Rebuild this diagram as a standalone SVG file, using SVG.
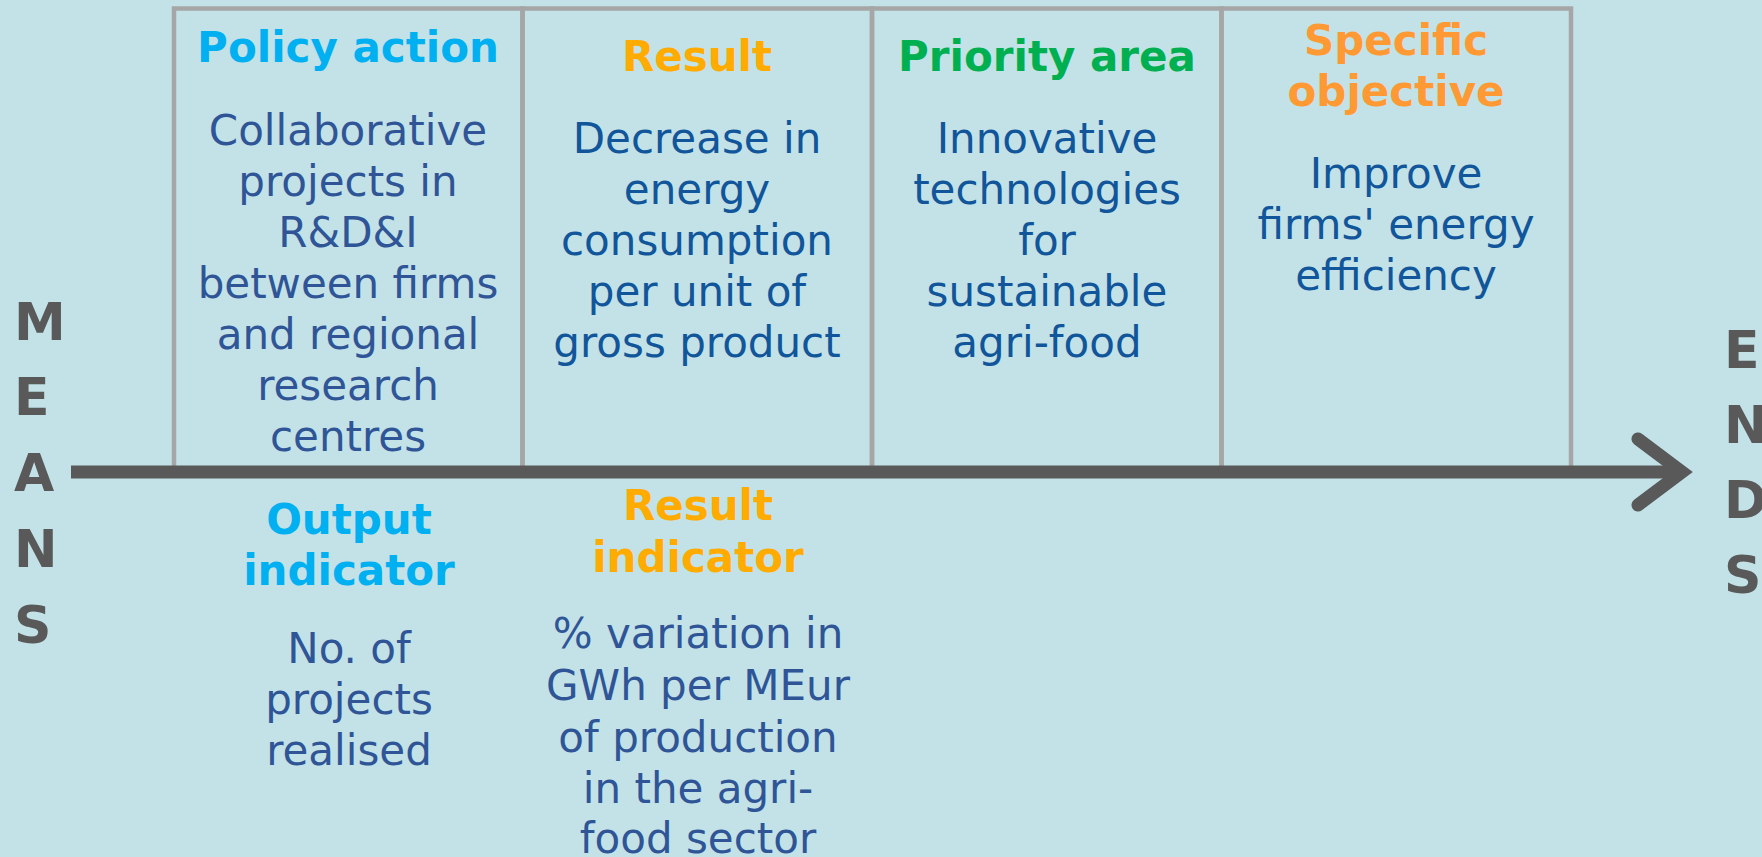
<svg xmlns="http://www.w3.org/2000/svg" width="1762" height="857" viewBox="0 0 1762 857">
<style>
text{font-family:"DejaVu Sans",Verdana,sans-serif;}
.col{fill:none;stroke:#a6a6a6;stroke-width:4.5;}
.hd{font-weight:bold;font-size:42px;text-anchor:middle;}
.bd{font-size:42px;text-anchor:middle;}
.b1{fill:#2f5597;}
.b2{fill:#11559a;}
.cy{fill:#00b0f0;}
.am{fill:#ffab00;}
.gr{fill:#00b050;}
.or{fill:#ff9933;}
.side{font-weight:bold;font-size:52px;fill:#595959;}
.arr{fill:none;stroke:#595959;stroke-width:13;}
</style>
<rect x="0" y="0" width="1762" height="857" fill="#c2e2e7"/>
<g id="policy-action">
<rect class="col" x="174" y="8.5" width="348.5" height="464"/>
<text class="hd cy" x="348" y="62">Policy action</text>
<text class="bd b1" x="348"><tspan x="348" y="145">Collaborative</tspan><tspan x="348" y="196">projects in</tspan><tspan x="348" y="247">R&amp;D&amp;I</tspan><tspan x="348" y="298">between firms</tspan><tspan x="348" y="349">and regional</tspan><tspan x="348" y="400">research</tspan><tspan x="348" y="451">centres</tspan></text>
</g>
<g id="result">
<rect class="col" x="522.5" y="8.5" width="349.5" height="464"/>
<text class="hd am" x="697" y="71">Result</text>
<text class="bd b2"><tspan x="697" y="153">Decrease in</tspan><tspan x="697" y="204">energy</tspan><tspan x="697" y="255">consumption</tspan><tspan x="697" y="306">per unit of</tspan><tspan x="697" y="357">gross product</tspan></text>
</g>
<g id="priority-area">
<rect class="col" x="872" y="8.5" width="349.5" height="464"/>
<text class="hd gr" x="1047" y="71">Priority area</text>
<text class="bd b2"><tspan x="1047" y="153">Innovative</tspan><tspan x="1047" y="204">technologies</tspan><tspan x="1047" y="255">for</tspan><tspan x="1047" y="306">sustainable</tspan><tspan x="1047" y="357">agri-food</tspan></text>
</g>
<g id="specific-objective">
<rect class="col" x="1221.5" y="8.5" width="349.5" height="464"/>
<text class="hd or"><tspan x="1396" y="55">Specific</tspan><tspan x="1396" y="106">objective</tspan></text>
<text class="bd b2"><tspan x="1396" y="188">Improve</tspan><tspan x="1396" y="239">firms' energy</tspan><tspan x="1396" y="290">efficiency</tspan></text>
</g>
<g id="output-indicator">
<text class="hd cy"><tspan x="349" y="534">Output</tspan><tspan x="349" y="585">indicator</tspan></text>
<text class="bd b1"><tspan x="349" y="663">No. of</tspan><tspan x="349" y="714">projects</tspan><tspan x="349" y="765">realised</tspan></text>
</g>
<g id="result-indicator">
<text class="hd am"><tspan x="698" y="520">Result</tspan><tspan x="698" y="572">indicator</tspan></text>
<text class="bd b1"><tspan x="698" y="648">% variation in</tspan><tspan x="698" y="700">GWh per MEur</tspan><tspan x="698" y="752">of production</tspan><tspan x="698" y="803">in the agri-</tspan><tspan x="698" y="853">food sector</tspan></text>
</g>
<g id="means">
<text class="side"><tspan x="14" y="340">M</tspan><tspan x="14" y="415">E</tspan><tspan x="14" y="491">A</tspan><tspan x="14" y="567">N</tspan><tspan x="14" y="643">S</tspan></text>
</g>
<g id="ends">
<text class="side"><tspan x="1724" y="368">E</tspan><tspan x="1724" y="443">N</tspan><tspan x="1724" y="518">D</tspan><tspan x="1724" y="593">S</tspan></text>
</g>
<g id="connectors">
<path class="arr" d="M71 472 H1680"/>
<path class="arr" d="M1638 439 L1682 472 L1638 505" stroke-linecap="round" stroke-linejoin="miter"/>
</g>
</svg>
